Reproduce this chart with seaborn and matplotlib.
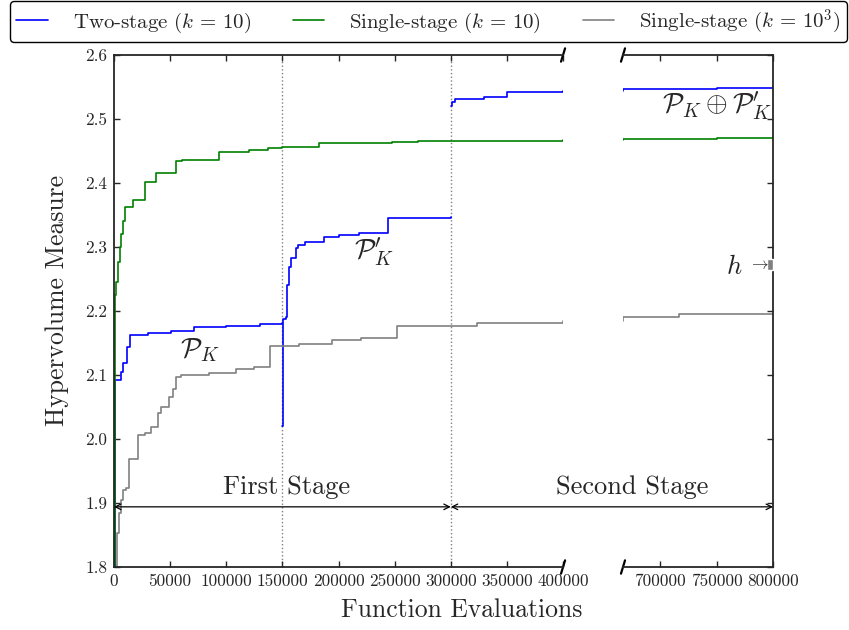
import numpy as np
import pandas as pd
import matplotlib
matplotlib.use("Agg")
import matplotlib.pyplot as plt
from matplotlib.lines import Line2D
import seaborn as sns

# ---------------- data ----------------
series_names = [r"Two-stage ($k\,=\,10$)", r"Single-stage ($k\,=\,10$)", r"Single-stage ($k\,=\,10^3$)"]
series_colors = ["#0000ff", "#008000", "#808080"]

# Two-stage, first stage run (P_K)
two_stage_pk_x = [0, 500, 1100, 5900, 8000, 11800, 13900, 30000, 50900, 71600, 100000, 130000, 150000]
two_stage_pk_y = [1.80, 2.00, 2.092, 2.105, 2.118, 2.143, 2.1625, 2.165, 2.169, 2.175, 2.177, 2.179, 2.181]
# Two-stage, restart run (P'_K)
two_stage_pk2_x = [150000, 150300, 153300, 154500, 155600, 157700, 162000, 164000, 170000, 187000,
                   200000, 218000, 244000, 300000]
two_stage_pk2_y = [2.020, 2.188, 2.191, 2.240, 2.269, 2.283, 2.299, 2.303, 2.308, 2.316,
                   2.318, 2.322, 2.345, 2.347]
# Two-stage, second stage (P_K (+) P'_K)
two_stage_second_x = [300000, 301500, 304000, 330000, 350000, 400000, 667000, 750000, 800000]
two_stage_second_y = [2.520, 2.527, 2.532, 2.535, 2.542, 2.544, 2.547, 2.548, 2.550]

single10_x = [0, 600, 1200, 2000, 3500, 5300, 6500, 7700, 9500, 16900, 27200, 37000, 55300, 61000,
              93500, 120000, 137500, 150000, 183000, 248000, 271000, 400000, 667000, 750000, 800000]
single10_y = [1.80, 2.10, 2.225, 2.246, 2.277, 2.300, 2.321, 2.340, 2.362, 2.374, 2.402, 2.415, 2.434, 2.436,
              2.449, 2.452, 2.455, 2.457, 2.462, 2.464, 2.466, 2.467, 2.469, 2.471, 2.472]

single1000_x = [0, 1000, 2900, 4100, 5900, 8000, 10900, 13000, 21300, 27200, 33100, 39000, 42000, 49400,
                52400, 55300, 60000, 85000, 109000, 125000, 139000, 165000, 194000, 220000, 252000,
                323000, 400000, 667000, 717000, 800000]
single1000_y = [1.80, 1.80, 1.853, 1.884, 1.905, 1.920, 1.923, 1.968, 2.006, 2.010, 2.019, 2.040, 2.050, 2.066,
                2.078, 2.097, 2.100, 2.103, 2.109, 2.113, 2.145, 2.148, 2.155, 2.158, 2.177,
                2.182, 2.184, 2.190, 2.195, 2.196]

# h marker (small gray bar at the right edge)
h_bar_x = [797300]
h_bar_bottom = [2.264]
h_bar_height = [0.017]

x_ticks_left = [0, 50000, 100000, 150000, 200000, 250000, 300000, 350000, 400000]
x_ticks_right = [700000, 750000, 800000]
y_ticks = [1.8, 1.9, 2.0, 2.1, 2.2, 2.3, 2.4, 2.5, 2.6]
stage_bounds = [0, 150000, 300000, 800000]

# ---------------- build table ----------------
frames = []
for name, seg, xs, ys in [
    (series_names[0], "a", two_stage_pk_x, two_stage_pk_y),
    (series_names[0], "a2", two_stage_pk2_x, two_stage_pk2_y),
    (series_names[0], "b", two_stage_second_x, two_stage_second_y),
    (series_names[1], "c", single10_x, single10_y),
    (series_names[2], "d", single1000_x, single1000_y),
]:
    frames.append(pd.DataFrame({"x": xs, "y": ys, "series": name, "segment": seg}))
df = pd.concat(frames, ignore_index=True)
palette = dict(zip(series_names, series_colors))

# ---------------- style ----------------
sns.set_style("ticks")
plt.rcParams["font.family"] = ["cmr10", "DejaVu Serif"]
plt.rcParams["mathtext.fontset"] = "cm"
plt.rcParams["axes.formatter.use_mathtext"] = True
plt.rcParams["axes.unicode_minus"] = False

fig = plt.figure(figsize=(8.49, 6.30), dpi=100)
ax1 = fig.add_axes([0.1343, 0.1, 0.5289, 0.8127])
ax2 = fig.add_axes([0.7338, 0.1, 0.1767, 0.8127])
ax2.patch.set_alpha(0)

for ax in (ax1, ax2):
    sns.lineplot(data=df, x="x", y="y", hue="series", units="segment", estimator=None,
                 sort=False, palette=palette, legend=False, ax=ax, lw=1.2,
                 drawstyle="steps-post")
    ax.set_ylim(1.8, 2.6)
    ax.set_yticks(y_ticks)
    ax.set_xlabel("")
    ax.set_ylabel("")
    for sp in ax.spines.values():
        sp.set_linewidth(1.3)

ax1.set_xlim(0, 400000)
ax2.set_xlim(667000, 800000)

# stage separators
for xv in stage_bounds[1:3]:
    ax1.axvline(xv, color="gray", ls=":", lw=1.0, zorder=0)

ax1.set_xticks(x_ticks_left)
ax1.set_xticklabels([str(v) for v in x_ticks_left])
ax2.set_xticks(x_ticks_right)
ax2.set_xticklabels([str(v) for v in x_ticks_right])
ax1.set_yticklabels([f"{v:.1f}" for v in y_ticks])

ax1.spines["right"].set_visible(False)
ax2.spines["left"].set_visible(False)
ax1.tick_params(axis="both", direction="in", length=4.5, width=1.0, labelsize=12.4, pad=5,
                top=True, right=False)
ax2.tick_params(axis="both", direction="in", length=4.5, width=1.0, labelsize=12.4, pad=5,
                top=True, left=False, right=True, labelleft=False, labelright=False)

# break marks
d1x, d2x, dy = 0.0045, 0.0135, 0.013
for yy in (0, 1):
    ax1.plot([1 - d1x, 1 + d1x], [yy - dy, yy + dy], transform=ax1.transAxes, color="k",
             lw=1.6, clip_on=False)
    ax2.plot([-d2x, d2x], [yy - dy, yy + dy], transform=ax2.transAxes, color="k",
             lw=1.6, clip_on=False)

# h bar
ax2.bar(h_bar_x, h_bar_height, bottom=h_bar_bottom, width=5400, color="#808080",
        clip_on=False, zorder=3)
ax2.text(765500, 2.269, "$h$", fontsize=19, ha="center", va="center")
ax2.text(787600, 2.273, r"$\rightarrow$", fontsize=12, ha="center", va="center")

# curve annotations
ax1.text(76300, 2.139, r"$\mathcal{P}_K$", fontsize=20, ha="center", va="center")
ax1.text(231600, 2.292, r"$\mathcal{P}_{K}^{\prime}$", fontsize=20, ha="center", va="center")
ax2.text(799500, 2.519, r"$\mathcal{P}_K \oplus \mathcal{P}_{K}^{\prime}$", fontsize=20,
         ha="right", va="center")

# stage arrows
arrow_y = 1.894
ax1.annotate("", xy=(stage_bounds[0], arrow_y), xytext=(stage_bounds[2], arrow_y),
             arrowprops=dict(arrowstyle="<->", lw=0.9, shrinkA=0, shrinkB=0, color="k"))
ax2.annotate("", xy=(stage_bounds[3], arrow_y), xycoords=ax2.transData,
             xytext=(stage_bounds[2], arrow_y), textcoords=ax1.transData,
             annotation_clip=False,
             arrowprops=dict(arrowstyle="<->", lw=0.9, shrinkA=0, shrinkB=0, color="k"))
ax1.text(153500, 1.925, "First Stage", fontsize=19, ha="center", va="center")
ax2.text(674850, 1.925, "Second Stage", fontsize=19, ha="center", va="center", clip_on=False)

# axis labels
fig.text(462 / 849, 1 - 610 / 630, "Function Evaluations", fontsize=18.5, ha="center", va="center")
fig.text(57 / 849, 1 - 300 / 630, "Hypervolume Measure", fontsize=18.5, ha="center", va="center",
         rotation=90)

# legend
handles = [Line2D([], [], color=c, lw=1.2) for c in series_colors]
leg = fig.legend(handles, series_names, loc="lower left",
                 bbox_to_anchor=(0.0118, 0.9333, 0.9858, 0.048), mode="expand", ncol=3,
                 borderaxespad=0, fontsize=15.0, handlelength=1.5, handletextpad=1.2,
                 borderpad=0.3, fancybox=True, frameon=True, framealpha=1, edgecolor="k")
leg.get_frame().set_linewidth(1.0)

fig.savefig("out.png", dpi=100)
